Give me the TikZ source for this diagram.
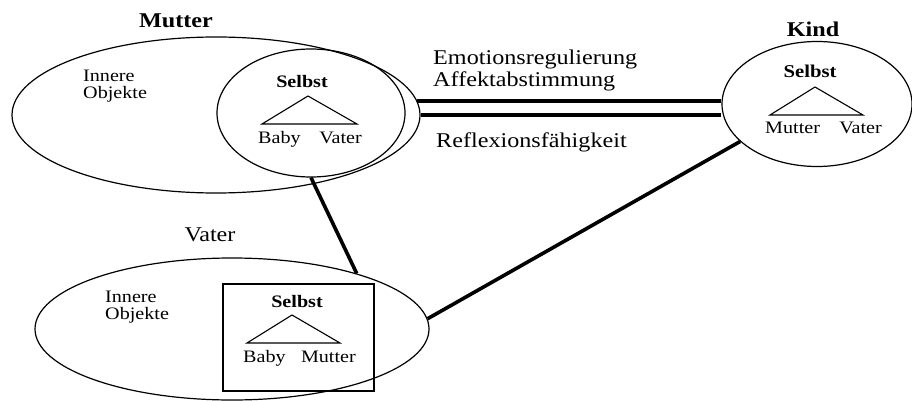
\documentclass[tikz,border=0pt]{standalone}
\usepackage{fontspec}
\setmainfont{Liberation Serif}
\usetikzlibrary{shapes.geometric}
\begin{document}
\begin{tikzpicture}[x=1pt,y=-1pt,
  oval/.style={draw, ellipse, inner sep=0pt, line width=1.2pt},
  big/.style={font=\fontsize{21}{24}\selectfont, inner sep=0pt, xscale=1.15},
  small/.style={font=\fontsize{17.5}{17.5}\selectfont, inner sep=0pt, xscale=1.15},
  link/.style={line width=3.6pt},
  tri/.style={line width=1.1pt, line join=miter}]
\useasboundingbox (0,0) rectangle (912,401);
\fill[white] (0,0) rectangle (912,401);
% Mutter
\node[oval, minimum width=408pt, minimum height=156pt] (mut) at (216,115) {};
\node[oval, minimum width=188pt, minimum height=128pt] (mself) at (311,113) {};
\node[big, anchor=base, font=\fontsize{21}{24}\selectfont\bfseries] (mtitle) at (176,28) {Mutter};
\node[small, anchor=base west] (mio1) at (83,82) {Innere};
\node[small, anchor=base west] (mio2) at (83,99) {Objekte};
\node[small, anchor=base, font=\fontsize{17.5}{17.5}\selectfont\bfseries] (msel) at (302,88) {Selbst};
\draw[tri] (308,96) -- (262,124) -- (357,124) -- cycle;
\node[small, anchor=base west] (mbaby) at (258,143) {Baby};
\node[small, anchor=base east] (mvater) at (362,143) {Vater};
% Kind
\node[oval, minimum width=190pt, minimum height=125pt] (kid) at (817,104) {};
\node[big, anchor=base, font=\fontsize{21}{24}\selectfont\bfseries] (ktitle) at (813,37) {Kind};
\node[small, anchor=base, font=\fontsize{18}{18}\selectfont\bfseries] (ksel) at (810,78) {Selbst};
\draw[tri] (815,87) -- (770,115) -- (863,115) -- cycle;
\node[small, anchor=base west] (kmutter) at (765,133) {Mutter};
\node[small, anchor=base east] (kvater) at (882,133) {Vater};
% Vater
\node[oval, minimum width=394pt, minimum height=142pt] (vat) at (232,329) {};
\node[draw, line width=1.3pt, minimum width=151pt, minimum height=107pt, inner sep=0pt] (vbox) at (298.5,337.5) {};
\node[big, anchor=base] (vtitle) at (210,241) {Vater};
\node[small, anchor=base west] (vio1) at (105,302) {Innere};
\node[small, anchor=base west] (vio2) at (105,319) {Objekte};
\node[small, anchor=base, font=\fontsize{17.5}{17.5}\selectfont\bfseries] (vsel) at (297,307) {Selbst};
\draw[tri] (292,315) -- (247,343) -- (340,343) -- cycle;
\node[small, anchor=base west] (vbaby) at (243,362) {Baby};
\node[small, anchor=base east] (vmutter) at (356,362) {Mutter};
% double link
\draw[link] (mut.4.28) -- (mut.4.28 -| kid.west);
\draw[link] (mut.-0.28) -- (mut.-0.28 -| kid.west);
\node[big, anchor=base west] (emo) at (433,65) {Emotionsregulierung};
\node[big, anchor=base west] (aff) at (433,87) {Affektabstimmung};
\node[big, anchor=base west] (ref) at (436,147) {Reflexionsfähigkeit};
% other links
\draw[link] (mself.south) -- (vat.24.8);
\draw[link] (kid.206.9) -- (vat.3.5);
\end{tikzpicture}
\end{document}
